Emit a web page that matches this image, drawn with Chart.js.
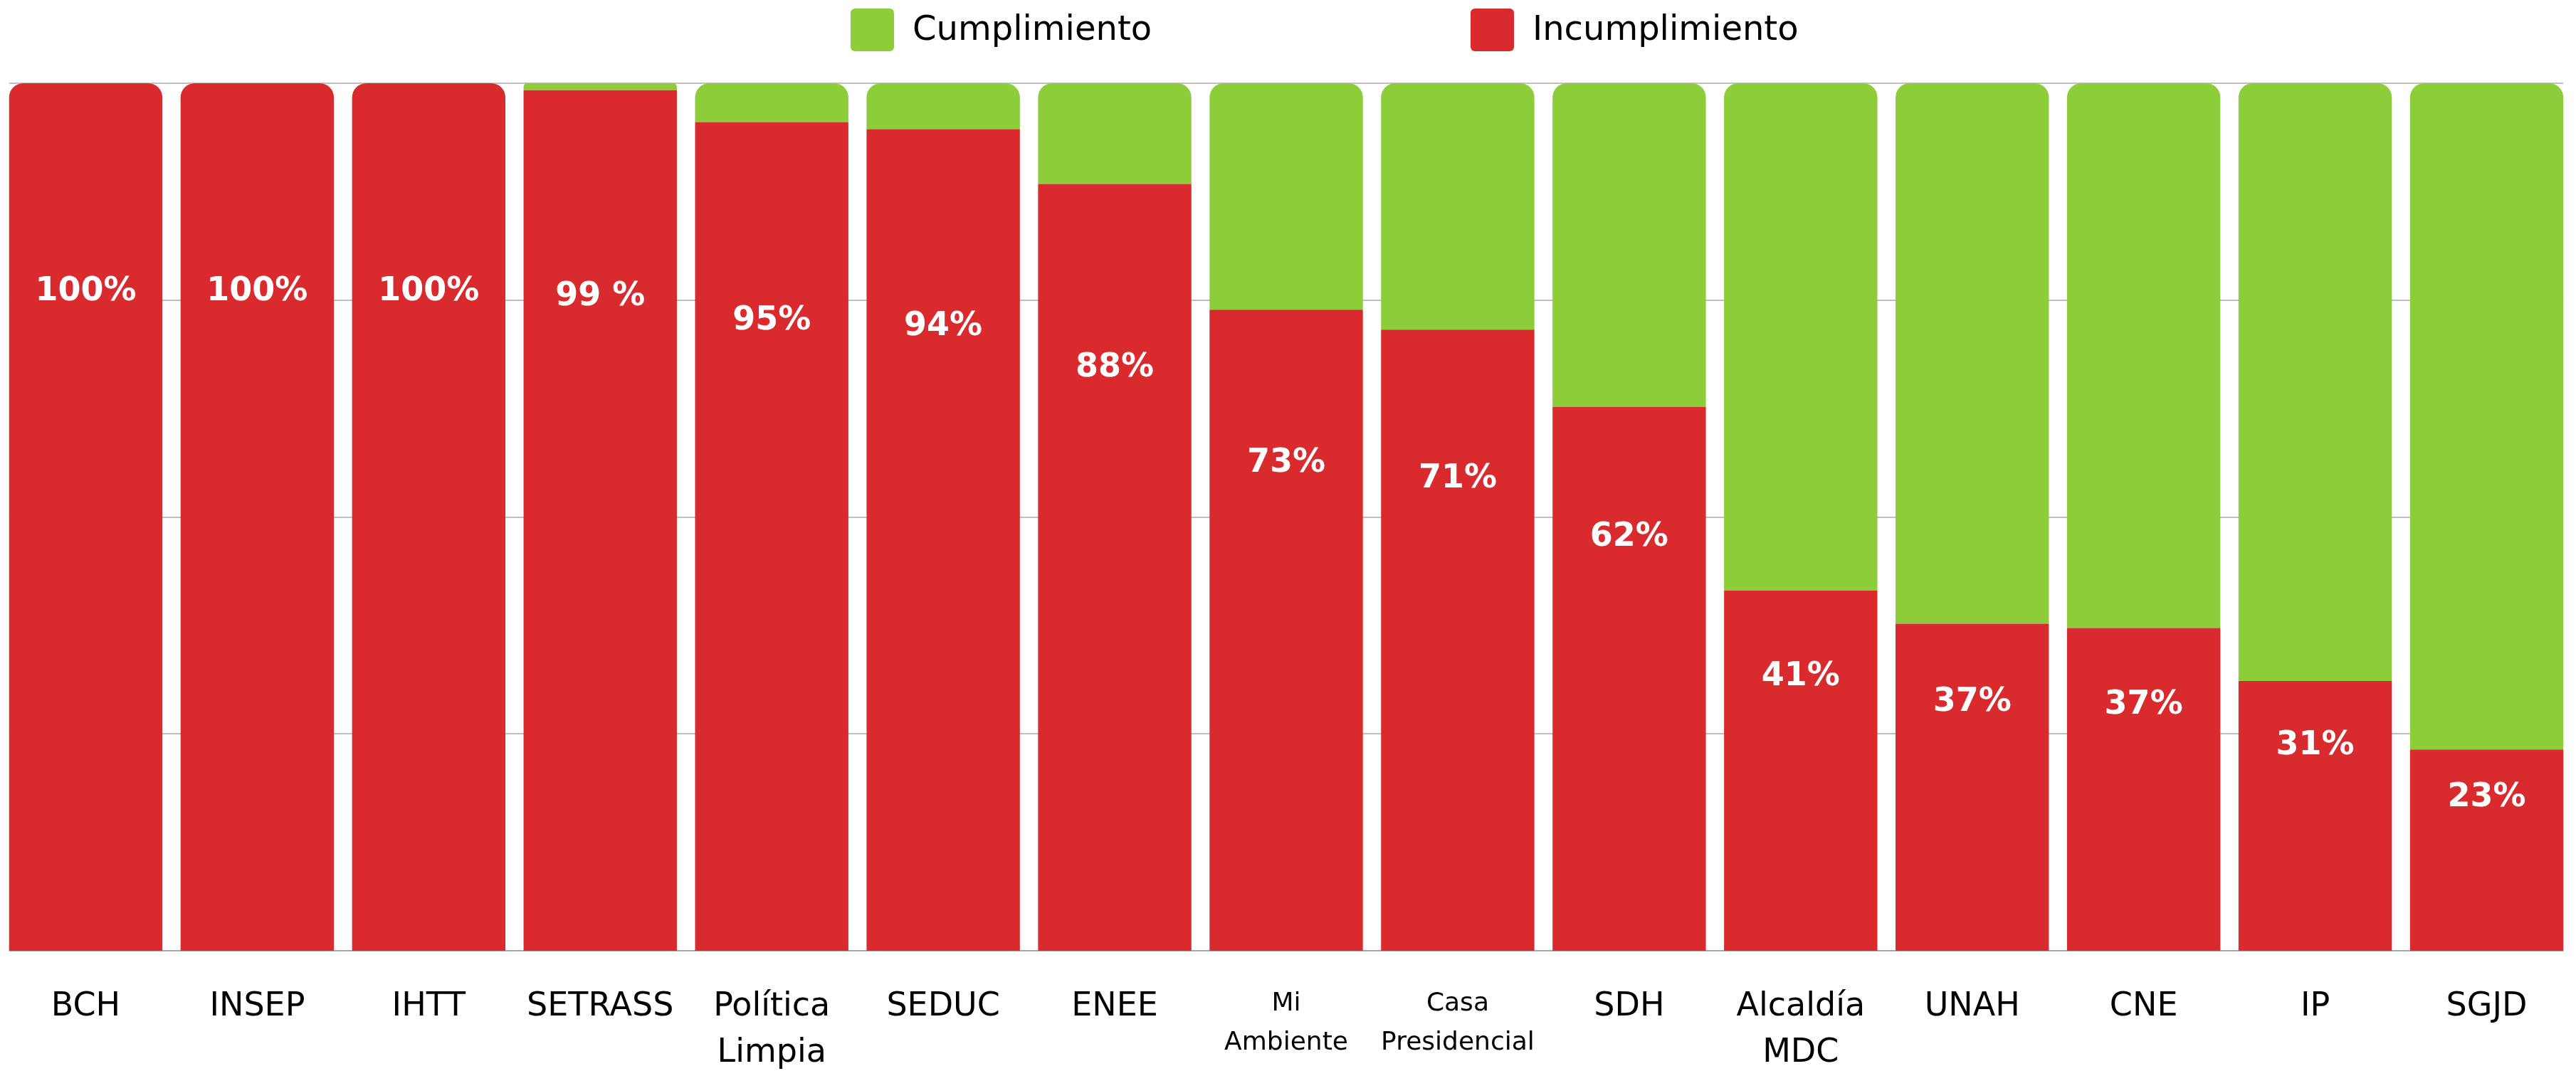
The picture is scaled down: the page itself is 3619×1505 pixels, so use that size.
<!DOCTYPE html>
<html>
<head>
<meta charset="utf-8">
<script src="https://cdn.jsdelivr.net/npm/chart.js@4.4.1/dist/chart.umd.min.js"></script>
<style>
html,body{margin:0;padding:0;background:#ffffff;}
#wrap{width:3619px;height:1505px;position:relative;}
</style>
</head>
<body>
<div id="wrap"><canvas id="c" width="3619" height="1505"></canvas></div>
<script>
// ---- data ----
const categories = ['BCH','INSEP','IHTT','SETRASS',['Política','Limpia'],'SEDUC','ENEE',['Mi','Ambiente'],['Casa','Presidencial'],'SDH',['Alcaldía','MDC'],'UNAH','CNE','IP','SGJD'];
const incumplimiento = [100,100,100,99.2,95.5,94.7,88.4,73.9,71.6,62.7,41.5,37.7,37.2,31.1,23.2];
const cumplimiento   = [0,0,0,0.8,4.5,5.3,11.6,26.1,28.4,37.3,58.5,62.3,62.8,68.9,76.8];
const valueLabels = ['100%','100%','100%','99 %','95%','94%','88%','73%','71%','62%','41%','37%','37%','31%','23%'];
const gridValues = [0,25,50,75,100];
const seriesNames = ['Incumplimiento','Cumplimiento'];

// ---- styles ----
const RED = '#D92B2E';
const GREEN = '#8DCD3A';
const FONT = '"DejaVu Sans", "Noto Sans", sans-serif';
const SMALL_TICKS = ['Mi Ambiente','Casa Presidencial'];
const LABEL_FRAC = 0.76;

const gridPlugin = {
  id: 'customGrid',
  beforeDatasetsDraw(chart) {
    const ctx = chart.ctx;
    const y = chart.scales.y;
    const meta = chart.getDatasetMeta(0);
    const first = meta.data[0], last = meta.data[meta.data.length - 1];
    const x0 = first.x - first.width / 2;
    const x1 = last.x + last.width / 2;
    ctx.save();
    gridValues.forEach(v => {
      const py = Math.round(y.getPixelForValue(v));
      ctx.beginPath();
      ctx.strokeStyle = v === 0 ? '#8a8a8a' : '#bfbfbf';
      ctx.lineWidth = v === 0 ? 1.5 : 2;
      ctx.moveTo(x0, py);
      ctx.lineTo(x1, py);
      ctx.stroke();
    });
    ctx.restore();
  }
};

const valueLabelPlugin = {
  id: 'valueLabels',
  afterDatasetsDraw(chart) {
    const ctx = chart.ctx;
    const meta = chart.getDatasetMeta(0);
    ctx.save();
    ctx.font = 'bold 46px ' + FONT;
    ctx.fillStyle = '#ffffff';
    ctx.textAlign = 'center';
    ctx.textBaseline = 'middle';
    meta.data.forEach((bar, i) => {
      const ly = bar.base - LABEL_FRAC * (bar.base - bar.y);
      ctx.fillText(valueLabels[i], bar.x, ly);
    });
    ctx.restore();
  }
};

const legendPlugin = {
  id: 'customLegend',
  afterDraw(chart) {
    const ctx = chart.ctx;
    const items = [{ds: 1, x: 1195}, {ds: 0, x: 2066}];
    ctx.save();
    ctx.font = '48px ' + FONT;
    ctx.textBaseline = 'middle';
    ctx.textAlign = 'left';
    items.forEach(it => {
      const ds = chart.data.datasets[it.ds];
      ctx.fillStyle = ds.backgroundColor;
      ctx.beginPath();
      ctx.roundRect(it.x, 12, 61, 60, 6);
      ctx.fill();
      ctx.fillStyle = '#000000';
      ctx.fillText(ds.label, it.x + 87, 44);
    });
    ctx.restore();
  }
};

new Chart(document.getElementById('c'), {
  type: 'bar',
  data: {
    labels: categories,
    datasets: [
      { label: seriesNames[0], data: incumplimiento, backgroundColor: RED, borderRadius: 20, borderSkipped: 'start' },
      { label: seriesNames[1], data: cumplimiento, backgroundColor: GREEN, borderRadius: 20, borderSkipped: 'start' }
    ]
  },
  options: {
    responsive: false,
    devicePixelRatio: 1,
    animation: false,
    layout: { padding: { top: 117, left: 0, right: 5, bottom: 0 } },
    plugins: { legend: { display: false }, tooltip: { enabled: false } },
    datasets: { bar: { barPercentage: 0.894, categoryPercentage: 1.0 } },
    scales: {
      x: {
        stacked: true,
        grid: { display: false, drawTicks: false },
        border: { display: false },
        ticks: {
          color: '#000000',
          padding: 47,
          maxRotation: 0,
          autoSkip: false,
          font: (c) => {
            const lab = categories[c.index];
            const name = Array.isArray(lab) ? lab.join(' ') : lab;
            if (SMALL_TICKS.includes(name)) return { family: FONT, size: 36, lineHeight: 1.53 };
            return { family: FONT, size: 46, lineHeight: 1.41 };
          }
        },
        afterFit: (s) => { s.height = 169; }
      },
      y: {
        stacked: true,
        display: false,
        min: 0,
        max: 100
      }
    }
  },
  plugins: [gridPlugin, valueLabelPlugin, legendPlugin]
});
</script>
</body>
</html>
